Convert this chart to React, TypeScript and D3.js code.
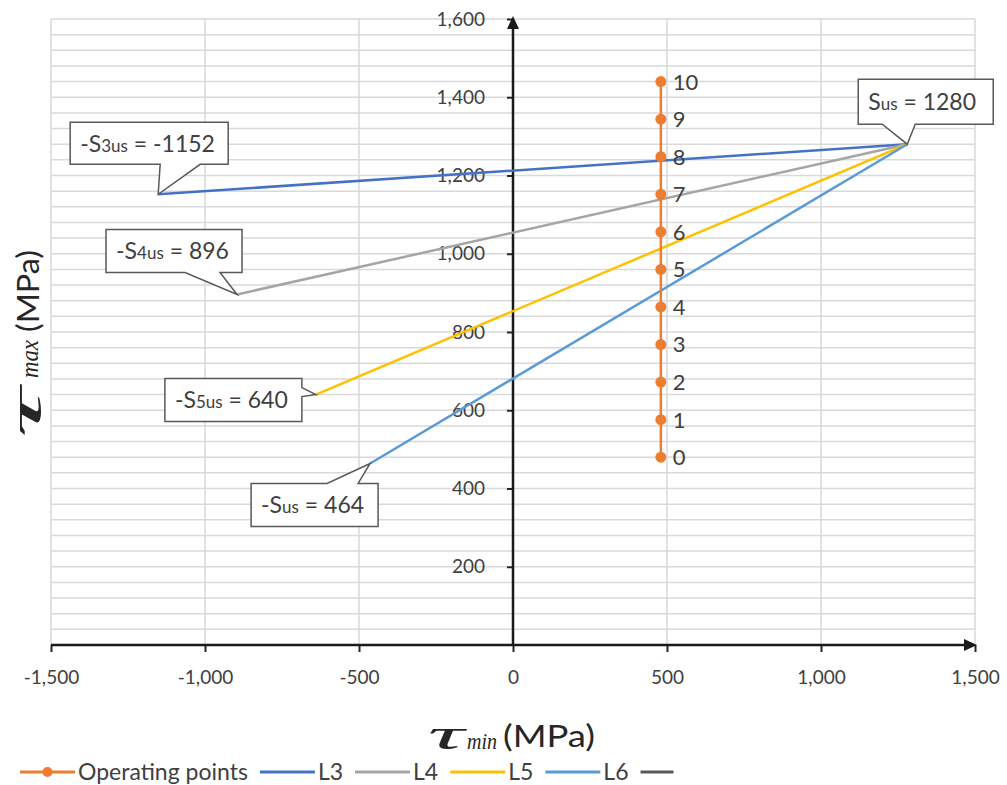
import React, { useRef, useEffect } from "react";
import * as d3 from "d3";

const WIDTH = 1007;
const HEIGHT = 785;

// axis ticks
const xTicks = [-1500, -1000, -500, 0, 500, 1000, 1500];
const yTicks = [200, 400, 600, 800, 1000, 1200, 1400, 1600];

// operating points (tau_min, tau_max)
const opX = [480, 480, 480, 480, 480, 480, 480, 480, 480, 480, 480];
const opY = [480, 576, 672, 768, 864, 960, 1056, 1152, 1248, 1344, 1440];
const opLabels = ["0", "1", "2", "3", "4", "5", "6", "7", "8", "9", "10"];

// limit lines
const l3X = [-1152, 1280];
const l3Y = [1152, 1280];
const l4X = [-896, 1280];
const l4Y = [896, 1280];
const l5X = [-640, 1280];
const l5Y = [640, 1280];
const l6X = [-464, 1280];
const l6Y = [464, 1280];

const seriesNames = ["L3", "L4", "L5", "L6"];
const seriesColors = ["#4472C4", "#A5A5A5", "#FFC000", "#5B9BD5"];

// callout texts: [prefix, small part, rest]
const calloutTexts = [
  ["-S", "3us", " = -1152"],
  ["-S", "4us", " = 896"],
  ["-S", "5us", " = 640"],
  ["-S", "us", " = 464"],
  ["S", "us", " = 1280"],
];

const FONT = "Lato, 'Open Sans', sans-serif";
const MATH = "'Liberation Serif', 'DejaVu Serif', serif";

const fmt = (d) => d3.format(",")(d).replace("\u2212", "-");

const App = () => {
  const svgRef = useRef(null);

  useEffect(() => {
    document.body.style.margin = "0";
    const svg = d3.select(svgRef.current);
    svg.selectAll("*").remove();

    const x = d3.scaleLinear().domain([-1500, 1500]).range([51, 975]);
    const y = d3.scaleLinear().domain([0, 1600]).range([645, 19]);

    const lines = [
      { xs: l3X, ys: l3Y },
      { xs: l4X, ys: l4Y },
      { xs: l5X, ys: l5Y },
      { xs: l6X, ys: l6Y },
    ];

    // grid
    const grid = svg.append("g").attr("stroke", "#d9d9d9").attr("stroke-width", 1.5);
    grid
      .selectAll(".hg")
      .data(d3.range(0, 1601, 40))
      .enter()
      .append("line")
      .attr("x1", x(-1500))
      .attr("x2", x(1500))
      .attr("y1", (d) => y(d))
      .attr("y2", (d) => y(d));
    grid
      .selectAll(".vg")
      .data(xTicks)
      .enter()
      .append("line")
      .attr("x1", (d) => x(d))
      .attr("x2", (d) => x(d))
      .attr("y1", y(1600))
      .attr("y2", y(0));

    // axes
    const yAxis = svg
      .append("g")
      .attr("transform", `translate(${x(0)},0)`)
      .call(d3.axisLeft(y).tickValues(yTicks).tickSize(6).tickPadding(22).tickFormat(fmt));
    const xAxis = svg
      .append("g")
      .attr("transform", `translate(0,${y(0)})`)
      .call(d3.axisBottom(x).tickValues(xTicks).tickSize(7).tickPadding(19).tickFormat(fmt));
    [yAxis, xAxis].forEach((a) => {
      a.select(".domain").remove();
      a.selectAll("line").attr("stroke", "#262626").attr("stroke-width", 2);
      a.selectAll("text")
        .attr("fill", "#404040")
        .style("font-family", FONT)
        .style("font-size", "19px");
    });

    svg
      .append("line")
      .attr("x1", x(0))
      .attr("x2", x(0))
      .attr("y1", y(0))
      .attr("y2", y(1600) + 4)
      .attr("stroke", "#1a1a1a")
      .attr("stroke-width", 2.5);
    svg
      .append("path")
      .attr("d", `M${x(0)},${y(1600) - 3} l-6,13 l12,0 Z`)
      .attr("fill", "#1a1a1a");
    svg
      .append("line")
      .attr("x1", x(-1500))
      .attr("x2", x(1500) - 4)
      .attr("y1", y(0))
      .attr("y2", y(0))
      .attr("stroke", "#1a1a1a")
      .attr("stroke-width", 2.5);
    svg
      .append("path")
      .attr("d", `M${x(1500) + 2},${y(0)} l-13,-6 l0,12 Z`)
      .attr("fill", "#1a1a1a");

    // limit lines
    const line = d3
      .line()
      .x((d) => x(d[0]))
      .y((d) => y(d[1]));
    lines.forEach((s, i) => {
      svg
        .append("path")
        .datum(s.xs.map((v, k) => [v, s.ys[k]]))
        .attr("d", line)
        .attr("fill", "none")
        .attr("stroke", seriesColors[i])
        .attr("stroke-width", 2.5);
    });

    // operating points
    const opData = opX.map((v, k) => [v, opY[k]]);
    svg
      .append("path")
      .datum(opData)
      .attr("d", line)
      .attr("fill", "none")
      .attr("stroke", "#ED7D31")
      .attr("stroke-width", 2.5);
    svg
      .selectAll(".op")
      .data(opData)
      .enter()
      .append("circle")
      .attr("cx", (d) => x(d[0]))
      .attr("cy", (d) => y(d[1]))
      .attr("r", 5.5)
      .attr("fill", "#ED7D31");
    svg
      .selectAll(".opl")
      .data(opData)
      .enter()
      .append("text")
      .attr("x", (d) => x(d[0]) + 12)
      .attr("y", (d) => y(d[1]))
      .attr("dy", "0.36em")
      .attr("fill", "#404040")
      .style("font-family", FONT)
      .style("font-size", "22px")
      .text((d, i) => opLabels[i]);

    // callouts: anchor point, box offset from anchor, tail side and base
    const anchors = [
      [l3X[0], l3Y[0]],
      [l4X[0], l4Y[0]],
      [l5X[0], l5Y[0]],
      [l6X[0], l6Y[0]],
      [l3X[1], l3Y[1]],
    ];
    const boxes = [
      { dx: -88, dy: -72, w: 158, h: 42, side: "bottom", t1: 2, t2: 42 },
      { dx: -131, dy: -65, w: 136, h: 43, side: "bottom", t1: -52, t2: -17 },
      { dx: -151, dy: -16, w: 137, h: 43, side: "right", t1: -7, t2: 2 },
      { dx: -119, dy: 20, w: 127, h: 43, side: "top", t1: -43, t2: -12 },
      { dx: -49, dy: -65, w: 135, h: 45, side: "bottom", t1: -25, t2: 8 },
    ];
    anchors.forEach((a, i) => {
      const ax = x(a[0]);
      const ay = y(a[1]);
      const b = boxes[i];
      const bx = ax + b.dx;
      const by = ay + b.dy;
      let p;
      if (b.side === "bottom") {
        p = `M${bx},${by} H${bx + b.w} V${by + b.h} H${ax + b.t2} L${ax},${ay} L${ax + b.t1},${by + b.h} H${bx} Z`;
      } else if (b.side === "top") {
        p = `M${bx},${by} H${ax + b.t1} L${ax},${ay} L${ax + b.t2},${by} H${bx + b.w} V${by + b.h} H${bx} Z`;
      } else {
        p = `M${bx},${by} H${bx + b.w} V${ay + b.t1} L${ax},${ay} L${bx + b.w},${ay + b.t2} V${by + b.h} H${bx} Z`;
      }
      svg
        .append("path")
        .attr("d", p)
        .attr("fill", "#fff")
        .attr("stroke", "#595959")
        .attr("stroke-width", 1.5);
      const t = svg
        .append("text")
        .attr("x", bx + 10)
        .attr("y", by + b.h / 2)
        .attr("dy", "0.36em")
        .attr("fill", "#404040")
        .style("font-family", FONT)
        .style("font-size", "23px");
      const parts = calloutTexts[i];
      t.append("tspan").text(parts[0]);
      t.append("tspan").style("font-size", "17px").text(parts[1]);
      t.append("tspan").text(parts[2]);
    });

    // axis titles
    const piece = (g, px, py, text, family, size, italic, len) => {
      const t = g
        .append("text")
        .attr("x", px)
        .attr("y", py)
        .attr("fill", "#262626")
        .style("font-family", family)
        .style("font-size", `${size}px`)
        .style("font-style", italic ? "italic" : "normal")
        .text(text);
      if (len) t.attr("textLength", len).attr("lengthAdjust", "spacingAndGlyphs");
      return t;
    };

    const yg = svg.append("g").attr("transform", "translate(41,440) rotate(-90)");
    piece(yg, 2, 0, "τ", MATH, 46, true, 50);
    piece(yg, 62, -3, "max", MATH, 25, true, 38);
    piece(yg, 108, -2, "(MPa)", FONT, 31, false, 82);

    const xg = svg.append("g");
    piece(xg, 428, 749, "τ", MATH, 44, true, 36);
    piece(xg, 467, 749, "min", MATH, 24, true, 30);
    piece(xg, 503, 747, "(MPa)", FONT, 31, false, 92);

    // legend
    const legendItems = [
      { name: "Operating points", color: "#ED7D31", marker: true },
      ...seriesNames.map((n, i) => ({ name: n, color: seriesColors[i], marker: false })),
      { name: "", color: "#595959", marker: false },
    ];
    const lg = svg.append("g").attr("transform", "translate(20,772)");
    let cx = 0;
    legendItems.forEach((it) => {
      const w = it.name ? 55 : 33;
      lg.append("line")
        .attr("x1", cx)
        .attr("x2", cx + w)
        .attr("y1", 0)
        .attr("y2", 0)
        .attr("stroke", it.color)
        .attr("stroke-width", 3);
      if (it.marker) {
        lg.append("circle").attr("cx", cx + w / 2).attr("cy", 0).attr("r", 5).attr("fill", it.color);
      }
      cx += w + 3;
      if (it.name) {
        const tx = lg
          .append("text")
          .attr("x", cx)
          .attr("y", 0)
          .attr("dy", "0.36em")
          .attr("fill", "#404040")
          .style("font-family", FONT)
          .style("font-size", "23px")
          .text(it.name);
        cx += tx.node().getComputedTextLength() + 12;
      }
    });
  }, []);

  return <svg ref={svgRef} width={WIDTH} height={HEIGHT} style={{ display: "block", background: "#fff" }} />;
};

export default App;
